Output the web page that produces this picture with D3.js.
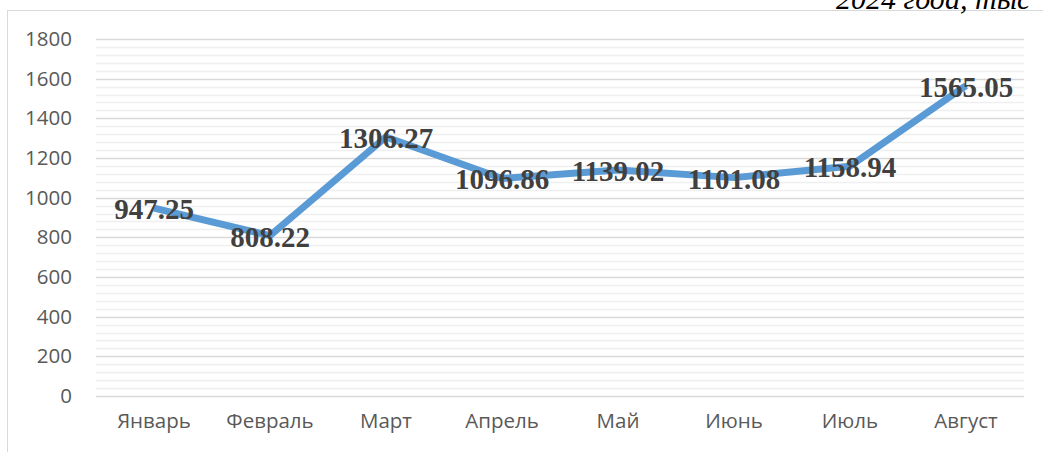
<!DOCTYPE html>
<meta charset="utf-8">
<style>
body { margin: 0; background: #fff; }
.axis text { font-family: 'Open Sans', sans-serif; font-size: 20.5px; fill: #595959; }
.value-label { font-family: 'Liberation Serif', 'Times New Roman', serif; font-weight: bold; font-size: 29px; fill: #404040; }
.title { font-family: 'Liberation Serif', 'Times New Roman', serif; font-style: italic; font-size: 30px; fill: #000; }
</style>
<svg id="chart" width="1043" height="452"></svg>
<script src="https://d3js.org/d3.v7.min.js"></script>
<script>

var months = ["Январь", "Февраль", "Март", "Апрель", "Май", "Июнь", "Июль", "Август"];
var values = [947.25, 808.22, 1306.27, 1096.86, 1139.02, 1101.08, 1158.94, 1565.05];
var yTicks = [0, 200, 400, 600, 800, 1000, 1200, 1400, 1600, 1800];

var svg = d3.select("#chart"),
    margin = {top: 39, right: 19, bottom: 56, left: 96},
    width = +svg.attr("width") - margin.left - margin.right,
    height = +svg.attr("height") - margin.top - margin.bottom;

// chart frame
svg.append("rect")
    .attr("x", 7.5).attr("y", 10.5)
    .attr("width", 1100).attr("height", 600)
    .attr("fill", "none")
    .attr("stroke", "#d9d9d9");

// caption above the frame, cut off like in the source
svg.append("text")
    .attr("class", "title")
    .attr("x", 836).attr("y", 9)
    .text("2024 года, тыс");

var g = svg.append("g").attr("transform", "translate(" + margin.left + "," + margin.top + ")");

var x = d3.scaleBand().domain(months).range([0, width]);
var y = d3.scaleLinear().domain([0, 1800]).range([height, 0]);

// minor gridlines
g.append("g").selectAll("line")
    .data(d3.range(0, 1801, 40).filter(function(v) { return v % 200 !== 0; }))
    .enter().append("line")
    .attr("x1", 0).attr("x2", width)
    .attr("y1", function(d) { return Math.round(y(d)) + 0.5; })
    .attr("y2", function(d) { return Math.round(y(d)) + 0.5; })
    .attr("stroke", "#efefef")
    .attr("stroke-width", 1.5);

// major gridlines
g.append("g").selectAll("line")
    .data(yTicks)
    .enter().append("line")
    .attr("x1", 0).attr("x2", width)
    .attr("y1", function(d) { return Math.round(y(d)) + 0.5; })
    .attr("y2", function(d) { return Math.round(y(d)) + 0.5; })
    .attr("stroke", "#d9d9d9")
    .attr("stroke-width", 1.5);

var yAxis = g.append("g")
    .attr("class", "axis")
    .call(d3.axisLeft(y).tickValues(yTicks).tickFormat(d3.format("d")).tickSize(0).tickPadding(24));
yAxis.select(".domain").remove();

var xAxis = g.append("g")
    .attr("class", "axis")
    .attr("transform", "translate(0," + height + ")")
    .call(d3.axisBottom(x).tickSize(0).tickPadding(17));
xAxis.select(".domain").remove();

var line = d3.line()
    .x(function(d, i) { return x(months[i]) + x.bandwidth() / 2; })
    .y(function(d) { return y(d); });

g.append("path")
    .datum(values)
    .attr("d", line)
    .attr("fill", "none")
    .attr("stroke", "#5b9bd5")
    .attr("stroke-width", 7)
    .attr("stroke-linejoin", "round");

g.selectAll(".value-label")
    .data(values)
    .enter().append("text")
    .attr("class", "value-label")
    .attr("x", function(d, i) { return x(months[i]) + x.bandwidth() / 2; })
    .attr("y", function(d) { return y(d); })
    .attr("dy", "0.38em")
    .attr("text-anchor", "middle")
    .text(function(d) { return d.toFixed(2); });

</script>
